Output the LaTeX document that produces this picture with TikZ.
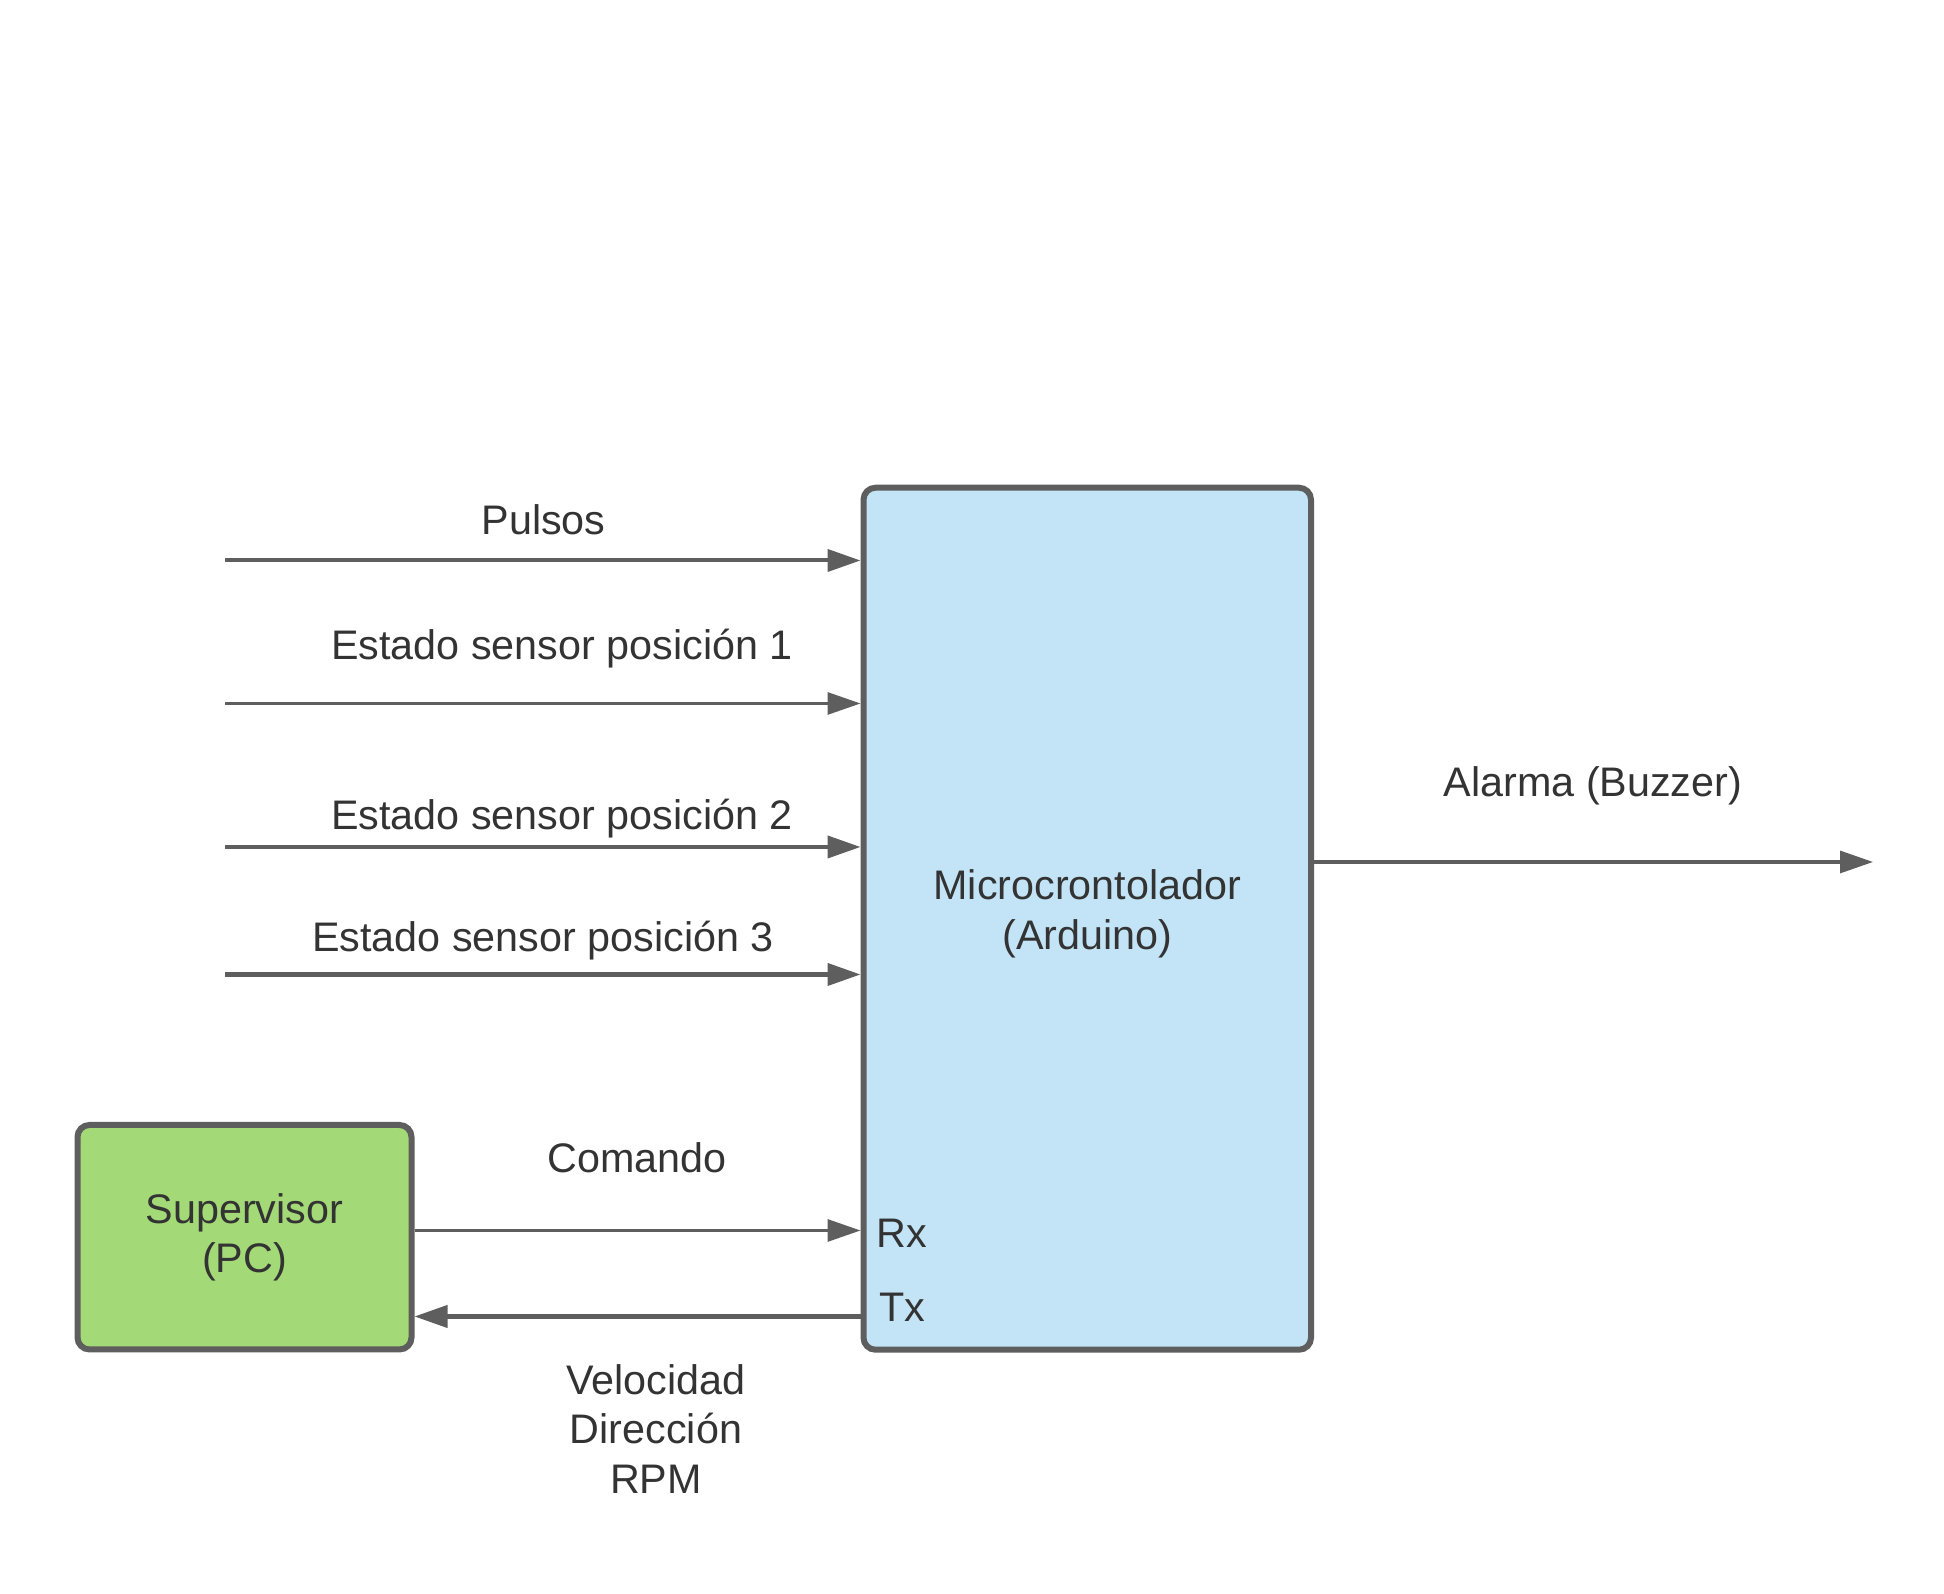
\documentclass[tikz,border=0pt]{standalone}
\usepackage{fontspec}
\setmainfont{Liberation Sans}
\usetikzlibrary{arrows.meta}

\definecolor{gris}{HTML}{5E5E5E}
\definecolor{texto}{HTML}{333333}
\definecolor{azul}{RGB}{194,228,246}
\definecolor{verde}{RGB}{163,217,119}
\newcommand{\letra}{\fontsize{23.5pt}{28.2pt}\selectfont}

\begin{document}
\begin{tikzpicture}[
		bloque/.style={draw=gris, line width=0.12cm, rounded corners=0.24cm, align=center, text=texto, font=\letra},
		flecha/.style={draw=gris, line width=2.3pt, -{Triangle[length=0.66cm, width=0.44cm]}},
		flechafina/.style={flecha, line width=1.8pt},
		etiqueta/.style={text=texto, font=\letra, inner sep=0pt, anchor=base},
	]
				\useasboundingbox (0, 0) rectangle (38.88, 31.88);
				
				\coordinate (in1) at (4.50, 20.67);
				\coordinate (in2) at (4.50, 17.81);
				\coordinate (in3) at (4.50, 14.94);
				\coordinate (in4) at (4.50, 12.39);
				\coordinate (rx) at (0, 7.27);
				\coordinate (tx) at (0, 5.55);
				\coordinate (alarma) at (37.46, 14.64);
				
				\node[bloque, fill=azul, minimum width=8.95cm, minimum height=17.24cm] (micro) at (21.745, 13.505) {};
				\node[bloque, fill=verde, minimum width=6.68cm, minimum height=4.49cm] (pc) at (4.89, 7.135) {Supervisor\\(PC)};
				\node[etiqueta, anchor=center, align=center] (lmicro) at ([yshift=0.1cm] micro.center) {Microcrontolador\\(Arduino)};
				
				\draw[flecha] (in1) -- (micro.west |- in1);
				\draw[flechafina] (in2) -- (micro.west |- in2);
				\draw[flecha] (in3) -- (micro.west |- in3);
				\draw[flecha] (in4) -- (micro.west |- in4);
				\draw[flechafina] (pc.east |- rx) -- (micro.west |- rx);
				\draw[flecha] (micro.west |- tx) -- (pc.east |- tx);
				\draw[flechafina] (micro.east |- alarma) -- (alarma);
				
				\node[etiqueta] (lpulsos) at (10.87, 21.19) {Pulsos};
				\node[etiqueta] (lsensor1) at (11.24, 18.69) {Estado sensor posición 1};
				\node[etiqueta] (lsensor2) at (11.24, 15.29) {Estado sensor posición 2};
				\node[etiqueta] (lsensor3) at (10.86, 12.84) {Estado sensor posición 3};
				\node[etiqueta] (lcomando) at (12.74, 8.43) {Comando};
				\node[etiqueta, anchor=base west] (lrx) at (17.52, 6.92) {Rx};
				\node[etiqueta, anchor=base west] (ltx) at (17.58, 5.44) {Tx};
				\node[etiqueta, anchor=center, align=center] (ldatos) at (13.12, 3.30) {Velocidad\\Dirección\\RPM};
				\node[etiqueta] (lalarma) at (31.86, 15.95) {Alarma (Buzzer)};
			\end{tikzpicture}
\end{document}
